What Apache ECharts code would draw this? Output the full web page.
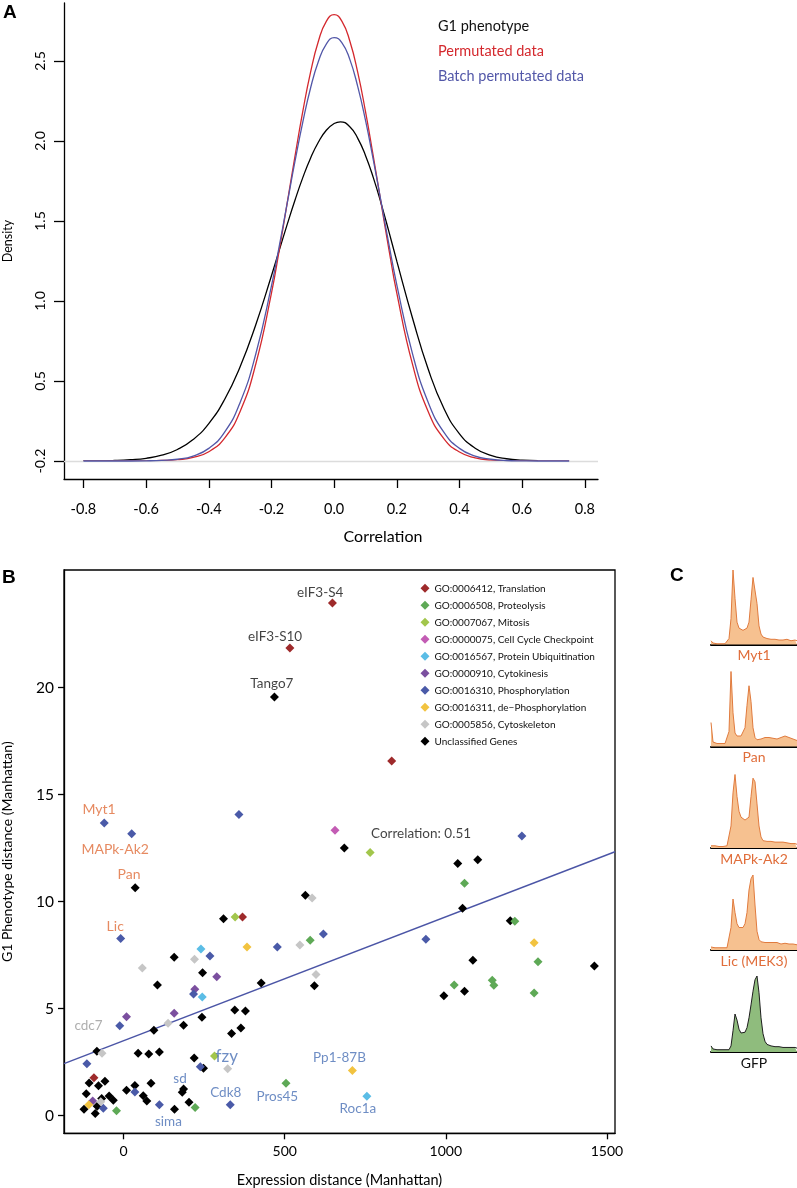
<!DOCTYPE html>
<html><head><meta charset="utf-8">
<script src="https://cdn.jsdelivr.net/npm/echarts@6/dist/echarts.min.js"></script>
<style>html,body{margin:0;padding:0;background:#fff}#c{width:797px;height:1188px}</style>
</head><body><div id="c"></div>
<script>
// ---------------- Panel A: density curves ----------------
const xTicksA = [-0.8, -0.6, -0.4, -0.2, 0.0, 0.2, 0.4, 0.6, 0.8];
const xTickLabelsA = ['-0.8', '-0.6', '-0.4', '-0.2', '0.0', '0.2', '0.4', '0.6', '0.8'];
const yTicksA = [0, 0.5, 1.0, 1.5, 2.0, 2.5];
const yTickLabelsA = ['-0.2', '0.5', '1.0', '1.5', '2.0', '2.5'];

const xG1 = [-0.80,-0.75,-0.70,-0.65,-0.60,-0.55,-0.50,-0.45,-0.40,-0.35,-0.30,-0.25,-0.20,-0.175,-0.15,-0.125,-0.10,-0.075,-0.05,-0.025,0.00,0.02,0.05,0.075,0.10,0.125,0.15,0.175,0.20,0.25,0.30,0.35,0.40,0.45,0.50,0.55,0.60,0.65];
const g1Density = [0.001,0.001,0.003,0.008,0.017,0.036,0.072,0.134,0.234,0.383,0.589,0.852,1.158,1.318,1.477,1.630,1.771,1.894,1.994,2.067,2.109,2.120,2.089,2.018,1.910,1.771,1.609,1.432,1.249,0.894,0.575,0.330,0.170,0.080,0.035,0.014,0.005,0.002];

const xPerm = [-0.80,-0.75,-0.70,-0.65,-0.60,-0.55,-0.50,-0.45,-0.40,-0.35,-0.30,-0.25,-0.20,-0.175,-0.15,-0.125,-0.10,-0.075,-0.05,-0.025,0.00,0.025,0.05,0.075,0.10,0.125,0.15,0.175,0.20,0.25,0.30,0.35,0.40,0.45,0.50,0.55,0.60,0.65,0.70,0.75];
const permDensity = [0.000,0.000,0.000,0.000,0.001,0.003,0.008,0.022,0.058,0.142,0.310,0.606,1.049,1.320,1.610,1.904,2.185,2.432,2.625,2.748,2.790,2.748,2.625,2.432,2.185,1.904,1.610,1.320,1.049,0.605,0.309,0.140,0.056,0.020,0.006,0.002,0.000,0.000,0.000,0.000];
const batchDensity = [0.000,0.000,0.000,0.000,0.001,0.004,0.011,0.031,0.079,0.179,0.366,0.669,1.095,1.345,1.608,1.872,2.118,2.333,2.498,2.606,2.646,2.614,2.510,2.343,2.130,1.882,1.618,1.353,1.101,0.671,0.367,0.180,0.079,0.031,0.011,0.003,0.001,0.000,0.000,0.000];

// ---------------- Panel B: scatter ----------------
const xTicksB = [0, 500, 1000, 1500];
const xTickLabelsB = ['0', '500', '1000', '1500'];
const yTicksB = [0, 5, 10, 15, 20];
const yTickLabelsB = ['0', '5', '10', '15', '20'];
const categoriesB = ['GO:0006412, Translation','GO:0006508, Proteolysis','GO:0007067, Mitosis','GO:0000075, Cell Cycle Checkpoint','GO:0016567, Protein Ubiquitination','GO:0000910, Cytokinesis','GO:0016310, Phosphorylation','GO:0016311, de\u2212Phosphorylation','GO:0005856, Cytoskeleton','Unclassified Genes'];

const translationPts = [[648,23.96],[516,21.85],[832,16.57],[369,9.28],[-92,1.77]];
const proteolysisPts = [[579,8.19],[222,0.38],[-22,0.22],[504,1.51],[1058,10.86],[1214,9.08],[1286,7.19],[1026,6.10],[1144,6.32],[1149,6.09],[1274,5.73]];
const mitosisPts = [[346,9.28],[282,2.78],[765,12.29]];
const checkpointPts = [[656,13.34]];
const ubiquitinationPts = [[240,7.79],[244,5.54],[755,0.90]];
const cytokinesisPts = [[289,6.49],[221,5.90],[9,4.62],[157,4.78],[-96,0.68]];
const phosphorylationPts = [[-60,13.67],[25,13.17],[358,14.07],[-9,8.27],[620,8.49],[268,7.46],[477,7.88],[217,5.68],[-12,4.20],[-114,2.42],[238,2.28],[35,1.10],[111,0.51],[331,0.51],[-63,0.34],[1236,13.07],[938,8.24]];
const dephosphorylationPts = [[383,7.88],[710,2.10],[1274,8.08],[-108,0.51]];
const cytoskeletonPts = [[585,10.17],[547,7.97],[58,6.90],[220,7.31],[597,6.59],[138,4.31],[-67,2.91],[323,2.19],[-71,0.65]];
const unclassifiedPts = [[468,19.56],[36,10.65],[564,10.30],[310,9.20],[157,7.40],[245,6.68],[592,6.07],[427,6.20],[105,6.10],[345,4.93],[378,4.89],[186,4.22],[243,4.59],[94,3.99],[364,4.09],[335,3.83],[-83,3.00],[45,2.91],[78,2.88],[111,2.97],[219,2.69],[248,2.21],[-107,1.52],[-78,1.39],[-58,1.60],[-116,1.02],[35,1.41],[85,1.51],[9,1.18],[61,0.93],[72,0.68],[186,1.24],[182,1.09],[203,0.62],[158,0.30],[-45,0.91],[-32,0.71],[-68,0.80],[-123,0.30],[-88,0.10],[-82,0.44],[685,12.50],[1037,11.78],[1099,11.96],[1052,9.69],[1200,9.10],[1084,7.26],[1461,6.99],[994,5.60],[1058,5.81]];

const fitIntercept = 3.50;
const fitSlope = 0.00579;

const annotationsB = [
  [610, 24.42, 'eIF3-S4', 'black'],
  [470, 22.39, 'eIF3-S10', 'black'],
  [460, 20.17, 'Tango7', 'black'],
  [923, 13.20, 'Correlation: 0.51', 'black'],
  [-76, 14.32, 'Myt1', 'orange'],
  [-26, 12.45, 'MAPk-Ak2', 'orange'],
  [17, 11.25, 'Pan', 'orange'],
  [-26, 8.83, 'Lic', 'orange'],
  [-109, 4.20, 'cdc7', 'gray'],
  [320, 2.75, 'fzy', 'blueLarge'],
  [175, 1.71, 'sd', 'blue'],
  [317, 1.07, 'Cdk8', 'blue'],
  [477, 0.88, 'Pros45', 'blue'],
  [139, -0.29, 'sima', 'blue'],
  [670, 2.70, 'Pp1-87B', 'blue'],
  [727, 0.34, 'Roc1a', 'blue']
];

// ---------------- Panel C: DNA content histograms ----------------
const histNames = ['Myt1', 'Pan', 'MAPk-Ak2', 'Lic (MEK3)', 'GFP'];
const myt1Hist = [5,2,1,1,1,1,1,1,2,8,35,100,62,30,22,20,19,20,22,30,60,90,88,55,25,14,10,9,8,8,7,8,7,7,6,7,6,6,7,6,5,6,6,5];
const panHist = [32,6,5,4,4,4,4,4,5,20,100,45,18,14,13,14,16,25,55,81,60,25,12,9,9,10,11,12,14,12,13,11,12,10,11,12,13,14,13,12,11,10,9,8];
const mapkHist = [3,3,3,2,2,2,2,2,3,5,30,75,100,70,50,42,40,38,38,42,70,95,90,60,30,15,10,9,9,8,9,8,8,7,8,7,8,6,7,6,6,5,6,5];
const licHist = [4,3,3,3,3,3,3,3,3,5,30,68,50,35,30,29,30,35,50,80,95,100,60,25,14,11,10,10,11,10,9,10,9,10,9,8,9,9,8,8,7,8,7,7];
const gfpHist = [8,4,3,3,3,3,3,3,3,3,8,28,50,42,30,25,24,26,32,45,62,80,95,100,78,45,24,14,10,9,8,8,7,8,7,7,6,7,6,6,6,5,6,5];

// ---------------- build chart ----------------
const FONT = 'Lato, "Noto Sans", sans-serif';
const chart = echarts.init(document.getElementById('c'), null, {renderer: 'canvas'});

const catColors = ['#9e2a2b','#5ea956','#a2c64c','#c35cb4','#5bbde6','#7b4f9f','#4a5aa8','#f2c340','#c6c6c6','#000000'];
const catData = [translationPts, proteolysisPts, mitosisPts, checkpointPts, ubiquitinationPts, cytokinesisPts, phosphorylationPts, dephosphorylationPts, cytoskeletonPts, unclassifiedPts];
const labelColors = {black:'#111111', orange:'#e06d3a', blue:'#4a70b5', blueLarge:'#4a70b5', gray:'#9a9a9a'};

function lookup(ticks, labels) {
  return function (v) {
    for (let i = 0; i < ticks.length; i++) if (Math.abs(ticks[i] - v) < 1e-9) return labels[i];
    return '';
  };
}

const xMinB = -185, xMaxB = 1525;

const grids = [
  {left: 64, top: 3, width: 534, height: 476, outerBoundsMode: 'none', containLabel: false},
  {left: 64, top: 570, width: 551, height: 563.3, outerBoundsMode: 'none', containLabel: false, show: true, borderColor: '#000', borderWidth: 1.3, backgroundColor: 'transparent'}
];
const histGeom = [[570, 74.5], [671.5, 75], [774.5, 73.5], [875, 75], [976, 76]];
histGeom.forEach(g => grids.push({left: 711, width: 86, top: g[0], height: g[1], outerBoundsMode: 'none', containLabel: false}));

const xAxes = [
  {gridIndex: 0, type: 'value', min: -0.862, max: 0.842,
   axisLine: {onZero: false, lineStyle: {color: '#000', width: 1.3}},
   axisTick: {length: 9, lineStyle: {color: '#000', width: 1.3}, customValues: xTicksA},
   axisLabel: {customValues: xTicksA, formatter: lookup(xTicksA, xTickLabelsA), color: '#000', fontSize: 14.5, fontFamily: FONT, margin: 23},
   splitLine: {show: false},
   name: 'Correlation', nameLocation: 'middle', nameGap: 50,
   nameTextStyle: {fontSize: 16, color: '#000', fontFamily: FONT, padding: [0, 0, 0, 104]}},
  {gridIndex: 1, type: 'value', min: xMinB, max: xMaxB,
   axisLine: {onZero: false, lineStyle: {color: '#000', width: 1.3}},
   axisTick: {length: 6, lineStyle: {color: '#000', width: 1.3}, customValues: xTicksB},
   axisLabel: {customValues: xTicksB, formatter: lookup(xTicksB, xTickLabelsB), color: '#000', fontSize: 14, fontFamily: FONT, margin: 11},
   splitLine: {show: false},
   name: 'Expression distance (Manhattan)', nameLocation: 'middle', nameGap: 40,
   nameTextStyle: {fontSize: 14.5, color: '#000', fontFamily: FONT}}
];
const yAxes = [
  {gridIndex: 0, type: 'value', min: -0.1125, max: 2.8625,
   axisLine: {show: true, onZero: false, lineStyle: {color: '#000', width: 1.3}},
   axisTick: {show: true, length: 10, lineStyle: {color: '#000', width: 1.3}, customValues: yTicksA},
   axisLabel: {customValues: yTicksA, formatter: lookup(yTicksA, yTickLabelsA), rotate: 90, color: '#000', fontSize: 14, fontFamily: FONT, margin: 17},
   splitLine: {show: false},
   name: 'Density', nameLocation: 'middle', nameGap: 50, nameRotate: 90,
   nameTextStyle: {fontSize: 12.5, color: '#000', fontFamily: FONT}},
  {gridIndex: 1, type: 'value', min: -0.83, max: 25.5,
   axisLine: {show: true, onZero: false, lineStyle: {color: '#000', width: 1.3}},
   axisTick: {show: true, length: 6, lineStyle: {color: '#000', width: 1.3}, customValues: yTicksB},
   axisLabel: {customValues: yTicksB, formatter: lookup(yTicksB, yTickLabelsB), color: '#000', fontSize: 15.5, fontFamily: FONT, margin: 10},
   splitLine: {show: false},
   name: 'G1 Phenotype distance (Manhattan)', nameLocation: 'middle', nameGap: 50, nameRotate: 90,
   nameTextStyle: {fontSize: 14, color: '#000', fontFamily: FONT}}
];
histNames.forEach((nm, k) => {
  xAxes.push({gridIndex: 2 + k, type: 'value', min: 0, max: 43,
    axisLine: {onZero: false, lineStyle: {color: '#000', width: 2}},
    axisTick: {show: false}, axisLabel: {show: false}, splitLine: {show: false},
    name: nm, nameLocation: 'middle', nameGap: 4,
    nameTextStyle: {fontSize: 14, color: k === 4 ? '#111' : '#e06d3a', fontFamily: FONT, verticalAlign: 'top'}});
  yAxes.push({gridIndex: 2 + k, type: 'value', min: 0, max: 100, show: false});
});

const series = [];
// Panel A curves
series.push({type: 'line', name: 'G1 phenotype', xAxisIndex: 0, yAxisIndex: 0,
  data: xG1.map((x, i) => [x, g1Density[i]]), smooth: true, symbol: 'none',
  lineStyle: {color: '#000', width: 1.3}, itemStyle: {color: '#000'},
  markLine: {silent: true, symbol: 'none', label: {show: false}, data: [{yAxis: 0}],
    lineStyle: {color: '#dcdcdc', type: 'solid', width: 1.3}}, z: 3});
series.push({type: 'line', name: 'Permutated data', xAxisIndex: 0, yAxisIndex: 0,
  data: xPerm.map((x, i) => [x, permDensity[i]]), smooth: true, symbol: 'none',
  lineStyle: {color: '#d4282d', width: 1.3}, itemStyle: {color: '#d4282d'}, z: 4});
series.push({type: 'line', name: 'Batch permutated data', xAxisIndex: 0, yAxisIndex: 0,
  data: xPerm.map((x, i) => [x, batchDensity[i]]), smooth: true, symbol: 'none',
  lineStyle: {color: '#5257a8', width: 1.3}, itemStyle: {color: '#5257a8'}, z: 5});

// Panel B regression line
series.push({type: 'line', xAxisIndex: 1, yAxisIndex: 1, silent: true, symbol: 'none',
  data: [[xMinB, fitIntercept + fitSlope * xMinB], [xMaxB, fitIntercept + fitSlope * xMaxB]],
  lineStyle: {color: '#4b55a6', width: 1.4}, z: 2});
// Panel B scatter categories
categoriesB.forEach((nm, k) => {
  series.push({type: 'scatter', name: nm, xAxisIndex: 1, yAxisIndex: 1, data: catData[k],
    symbol: 'diamond', symbolSize: 9, itemStyle: {color: catColors[k], opacity: 1}, z: 3 + (k === 9 ? 0 : 1)});
});
// Panel B text annotations
series.push({type: 'scatter', name: 'annotations', xAxisIndex: 1, yAxisIndex: 1, silent: true,
  symbol: 'circle', symbolSize: 1, z: 6,
  itemStyle: {color: 'rgba(255,255,255,0)'},
  label: {show: true, position: 'inside', align: 'center', verticalAlign: 'middle'},
  data: annotationsB.map(a => ({value: [a[0], a[1]], label: {show: true, formatter: a[2], position: 'inside',
    color: labelColors[a[3]], fontSize: a[3] === 'blueLarge' ? 17 : (a[3] === 'orange' ? 14 : 13.5), fontFamily: FONT}}))});

// Panel C histograms
const histData = [myt1Hist, panHist, mapkHist, licHist, gfpHist];
histData.forEach((h, k) => {
  const gfp = k === 4;
  series.push({type: 'line', xAxisIndex: 2 + k, yAxisIndex: 2 + k, silent: true, symbol: 'none',
    data: h.map((v, i) => [i, v]),
    lineStyle: {color: gfp ? '#1e1e1e' : '#e07b3e', width: 1},
    areaStyle: {color: gfp ? '#8fbc7d' : '#f6c190', opacity: 1}});
});

chart.setOption({
  animation: false,
  backgroundColor: '#fff',
  textStyle: {fontFamily: FONT},
  grid: grids,
  xAxis: xAxes,
  yAxis: yAxes,
  legend: [
    {data: [{name: 'G1 phenotype', textStyle: {color: '#111'}}, {name: 'Permutated data', textStyle: {color: '#d4282d'}}, {name: 'Batch permutated data', textStyle: {color: '#5257a8'}}],
     orient: 'vertical', left: 432, top: 18.5, padding: 0, itemWidth: 0, itemHeight: 0, itemGap: 9, selectedMode: false,
     itemStyle: {opacity: 0}, lineStyle: {opacity: 0},
     textStyle: {fontSize: 14.5, lineHeight: 16, fontFamily: FONT}},
    {data: categoriesB, orient: 'vertical', left: 420.5, top: 582.3, padding: 0, icon: 'diamond', itemWidth: 9, itemHeight: 9,
     itemGap: 5, selectedMode: false, textStyle: {fontSize: 10, lineHeight: 12, color: '#111', fontFamily: FONT}}
  ],
  graphic: [
    {type: 'text', left: 3, top: 3, style: {text: 'A', fontSize: 19, fontWeight: 'bold', fontFamily: 'Liberation Sans, Arial, sans-serif', fill: '#000'}},
    {type: 'text', left: 2, top: 568, style: {text: 'B', fontSize: 19, fontWeight: 'bold', fontFamily: 'Liberation Sans, Arial, sans-serif', fill: '#000'}},
    {type: 'text', left: 670, top: 566, style: {text: 'C', fontSize: 19, fontWeight: 'bold', fontFamily: 'Liberation Sans, Arial, sans-serif', fill: '#000'}}
  ],
  series: series
});
</script></body></html>
